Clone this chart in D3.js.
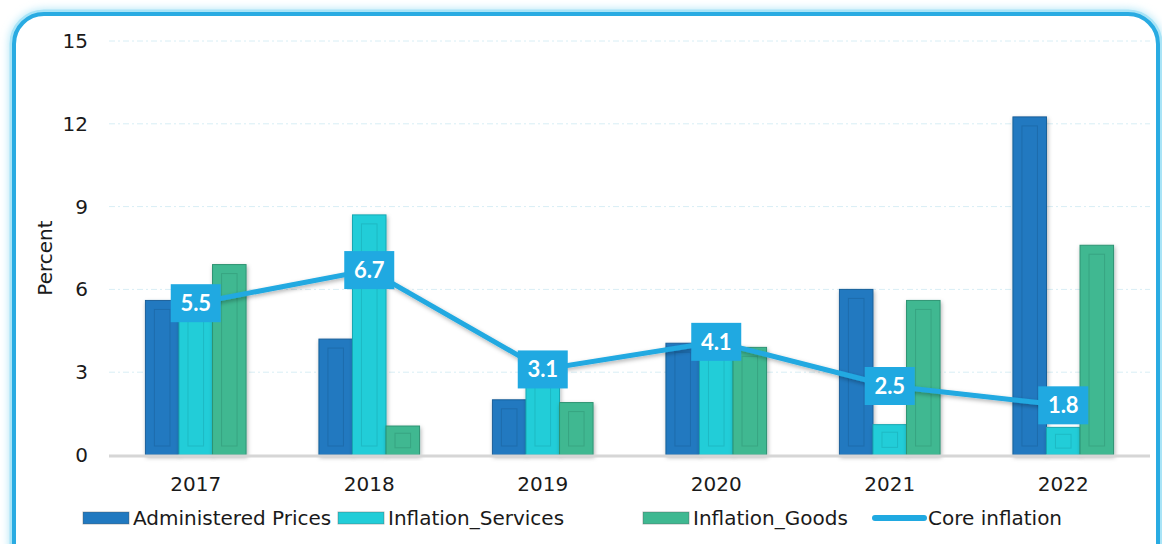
<!DOCTYPE html>
<html lang="en">
<head>
<meta charset="UTF-8">
<script src="https://d3js.org/d3.v7.min.js"></script>
<style>
  body { margin: 0; background: #fff; font-family: 'DejaVu Sans', sans-serif; }
  text { fill: #1a1a1a; }
</style>
</head>
<body>
<script>
  const years = ["2017", "2018", "2019", "2020", "2021", "2022"];
  const administered = [5.6, 4.2, 2.0, 4.05, 6.0, 12.25];
  const services = [5.5, 8.7, 3.0, 4.1, 1.1, 1.0];
  const goods = [6.9, 1.05, 1.9, 3.9, 5.6, 7.6];
  const core = [5.5, 6.7, 3.1, 4.1, 2.5, 1.8];
  const yTicks = [0, 3, 6, 9, 12, 15];

  const barSeries = [
    { name: "Administered Prices", values: administered, fill: "#2179c0", edge: "#1a609a" },
    { name: "Inflation_Services", values: services, fill: "#22cdd8", edge: "#1aa8b2" },
    { name: "Inflation_Goods", values: goods, fill: "#3fb891", edge: "#2f9473" }
  ];
  const lineColor = "#20a9e1";
  const font = "'DejaVu Sans', sans-serif";

  const W = 1162, H = 544;
  const svg = d3.select("body").append("svg").attr("width", W).attr("height", H);
  const defs = svg.append("defs");

  // glow for frame
  const glow = defs.append("filter").attr("id", "glow").attr("x", "-5%").attr("y", "-5%").attr("width", "110%").attr("height", "110%");
  glow.append("feGaussianBlur").attr("stdDeviation", 4).attr("result", "b");
  const gm = glow.append("feMerge");
  gm.append("feMergeNode").attr("in", "b");
  gm.append("feMergeNode").attr("in", "SourceGraphic");

  const shadow = defs.append("filter").attr("id", "shadow").attr("x", "-20%").attr("y", "-20%").attr("width", "140%").attr("height", "140%");
  shadow.append("feDropShadow").attr("dx", 1).attr("dy", 2).attr("stdDeviation", 2).attr("flood-color", "#000").attr("flood-opacity", 0.3);

  // frame
  svg.append("rect")
    .attr("x", 14).attr("y", 14).attr("width", 1144).attr("height", 560)
    .attr("rx", 30).attr("ry", 30)
    .attr("fill", "none").attr("stroke", "#a9e4f7").attr("stroke-width", 9)
    .attr("filter", "url(#glow)");
  svg.append("rect")
    .attr("x", 14).attr("y", 14).attr("width", 1144).attr("height", 560)
    .attr("rx", 30).attr("ry", 30)
    .attr("fill", "#fff").attr("stroke", "#29abe2").attr("stroke-width", 4);

  const margin = { left: 109, right: 12, top: 41, bottom: 89 };
  const x = d3.scaleBand().domain(years).range([margin.left, W - margin.right]).paddingInner(0.42).paddingOuter(0.21);
  const x1 = d3.scaleBand().domain(barSeries.map(d => d.name)).range([0, x.bandwidth()]);
  const y = d3.scaleLinear().domain([0, 15]).range([H - margin.bottom, margin.top]);
  const band = d3.scaleBand().domain(years).range([margin.left, W - margin.right]);

  // grid
  svg.append("g").selectAll("line").data(yTicks.filter(d => d > 0)).join("line")
    .attr("x1", margin.left).attr("x2", W - margin.right)
    .attr("y1", d => y(d)).attr("y2", d => y(d))
    .attr("stroke", "#d8eef5").attr("stroke-width", 1).attr("stroke-dasharray", "6,3,2,3");

  // y axis
  const yAxis = svg.append("g").attr("transform", `translate(${margin.left - 21},0)`)
    .call(d3.axisLeft(y).tickValues(yTicks).tickSize(0).tickPadding(0));
  yAxis.select(".domain").remove();
  yAxis.selectAll("text").attr("font-size", 20).attr("font-family", font).style("fill", "#1a1a1a");

  svg.append("text")
    .attr("transform", `translate(52,${(y(0) + y(15)) / 2 + 10}) rotate(-90)`)
    .attr("text-anchor", "middle").attr("font-size", 20).attr("font-family", font).text("Percent");

  // bars
  barSeries.forEach(s => {
    const g = svg.append("g");
    years.forEach((yr, i) => {
      const bx = x(yr) + x1(s.name), bw = x1.bandwidth();
      const by = y(s.values[i]), bh = y(0) - y(s.values[i]);
      g.append("rect").attr("x", bx).attr("y", by).attr("width", bw).attr("height", bh)
        .attr("fill", s.fill).attr("stroke", s.edge).attr("stroke-width", 1).attr("filter", "url(#shadow)");
      const inset = 9, vin = Math.min(9, bh / 4);
      if (bh > 8) {
        g.append("rect").attr("x", bx + inset).attr("y", by + vin).attr("width", bw - 2 * inset).attr("height", Math.max(0, bh - 2 * vin))
          .attr("fill", "none").attr("stroke", s.edge).attr("stroke-opacity", 0.5).attr("stroke-width", 1);
      }
    });
  });

  // x axis
  svg.append("line").attr("x1", margin.left).attr("x2", W - margin.right)
    .attr("y1", y(0) + 1).attr("y2", y(0) + 1).attr("stroke", "#d6d6d6").attr("stroke-width", 3);
  const xAxis = svg.append("g").attr("transform", `translate(0,${y(0)})`)
    .call(d3.axisBottom(band).tickSize(0).tickPadding(22));
  xAxis.select(".domain").remove();
  xAxis.selectAll("text").attr("font-size", 20).attr("font-family", font).style("fill", "#1a1a1a");

  // core line
  const cx = yr => band(yr) + band.bandwidth() / 2;
  const line = d3.line().x((d, i) => cx(years[i])).y(d => y(d));
  svg.append("path").datum(core).attr("d", line)
    .attr("fill", "none").attr("stroke", lineColor).attr("stroke-width", 5).attr("filter", "url(#shadow)");

  const lab = svg.append("g").selectAll("g").data(core).join("g")
    .attr("transform", (d, i) => `translate(${cx(years[i])},${y(d)})`);
  lab.append("rect").attr("x", -25).attr("y", -19).attr("width", 50).attr("height", 38).attr("fill", lineColor);
  lab.append("text").attr("text-anchor", "middle").attr("dy", 8).attr("font-size", 22).attr("font-weight", "bold")
    .attr("font-family", "Lato, sans-serif").style("fill", "#fff").text(d => d.toFixed(1));

  // legend
  const legend = [
    { type: "bar", name: "Administered Prices", color: barSeries[0].fill, x: 83 },
    { type: "bar", name: "Inflation_Services", color: barSeries[1].fill, x: 338 },
    { type: "bar", name: "Inflation_Goods", color: barSeries[2].fill, x: 643 },
    { type: "line", name: "Core inflation", color: lineColor, x: 873 }
  ];
  const lg = svg.append("g").selectAll("g").data(legend).join("g").attr("transform", d => `translate(${d.x},518)`);
  lg.filter(d => d.type === "bar").append("rect").attr("x", 0).attr("y", -6).attr("width", 46).attr("height", 12)
    .attr("fill", d => d.color).attr("stroke", "#555").attr("stroke-opacity", 0.4);
  lg.filter(d => d.type === "line").append("line").attr("x1", 2).attr("x2", 51).attr("y1", 0).attr("y2", 0)
    .attr("stroke", d => d.color).attr("stroke-width", 6).attr("stroke-linecap", "round");
  lg.append("text").attr("x", d => d.type === "bar" ? 50 : 55).attr("y", 7).attr("font-size", 20)
    .attr("font-family", font).text(d => d.name);
</script>
</body>
</html>
